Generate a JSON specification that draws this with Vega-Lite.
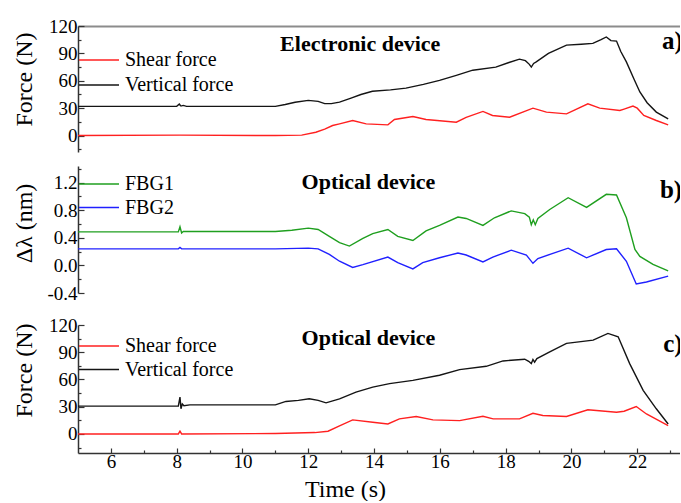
{
  "$schema": "https://vega.github.io/schema/vega-lite/v6.json",
  "autosize": {"type": "pad"},
  "padding": {"left": 12, "top": 17, "right": 0, "bottom": 0},
  "background": "white",
  "config": {
    "view": {"stroke": null},
    "font": "Liberation Serif",
    "axis": {
      "labelFont": "Liberation Serif",
      "labelFontSize": 19,
      "labelColor": "#000000",
      "labelPadding": 7,
      "labelOverlap": false,
      "labelFlush": false,
      "titleFont": "Liberation Serif",
      "titleFontSize": 24,
      "titleFontWeight": "normal",
      "titleColor": "#000000",
      "domainColor": "#333333",
      "domainWidth": 1.5,
      "tickColor": "#333333",
      "tickWidth": 1.2,
      "grid": false
    },
    "legend": {
      "orient": "none",
      "title": null,
      "padding": 0,
      "symbolType": "M-2,0H2",
      "symbolSize": 400,
      "symbolStrokeWidth": 1.6,
      "labelFont": "Liberation Serif",
      "labelFontSize": 20,
      "labelColor": "#000000",
      "labelOffset": 15
    },
    "text": {"font": "Liberation Serif", "fontWeight": "bold", "color": "#000000"}
  },
  "datasets": {
    "electronic": [
      {"t": 5.0, "v": 32, "s": "Vertical force"},
      {"t": 8.0, "v": 32, "s": "Vertical force"},
      {"t": 8.08, "v": 34.5, "s": "Vertical force"},
      {"t": 8.13, "v": 32.3, "s": "Vertical force"},
      {"t": 8.2, "v": 33, "s": "Vertical force"},
      {"t": 8.3, "v": 32, "s": "Vertical force"},
      {"t": 11.0, "v": 32, "s": "Vertical force"},
      {"t": 11.3, "v": 34, "s": "Vertical force"},
      {"t": 11.6, "v": 36.5, "s": "Vertical force"},
      {"t": 12.0, "v": 38.5, "s": "Vertical force"},
      {"t": 12.3, "v": 37.5, "s": "Vertical force"},
      {"t": 12.5, "v": 35, "s": "Vertical force"},
      {"t": 12.7, "v": 35, "s": "Vertical force"},
      {"t": 12.95, "v": 36.6, "s": "Vertical force"},
      {"t": 13.3, "v": 41, "s": "Vertical force"},
      {"t": 13.6, "v": 45, "s": "Vertical force"},
      {"t": 13.95, "v": 48.5, "s": "Vertical force"},
      {"t": 14.5, "v": 50, "s": "Vertical force"},
      {"t": 14.97, "v": 52, "s": "Vertical force"},
      {"t": 15.5, "v": 56, "s": "Vertical force"},
      {"t": 15.99, "v": 60.5, "s": "Vertical force"},
      {"t": 16.5, "v": 66, "s": "Vertical force"},
      {"t": 17.0, "v": 71.6, "s": "Vertical force"},
      {"t": 17.7, "v": 75, "s": "Vertical force"},
      {"t": 18.1, "v": 80, "s": "Vertical force"},
      {"t": 18.42, "v": 83.7, "s": "Vertical force"},
      {"t": 18.6, "v": 82, "s": "Vertical force"},
      {"t": 18.72, "v": 78, "s": "Vertical force"},
      {"t": 18.78, "v": 75, "s": "Vertical force"},
      {"t": 18.85, "v": 79, "s": "Vertical force"},
      {"t": 18.93, "v": 80.7, "s": "Vertical force"},
      {"t": 19.3, "v": 90, "s": "Vertical force"},
      {"t": 19.85, "v": 99, "s": "Vertical force"},
      {"t": 20.3, "v": 100, "s": "Vertical force"},
      {"t": 20.65, "v": 101, "s": "Vertical force"},
      {"t": 20.9, "v": 105, "s": "Vertical force"},
      {"t": 21.06, "v": 108, "s": "Vertical force"},
      {"t": 21.2, "v": 104, "s": "Vertical force"},
      {"t": 21.37, "v": 103.5, "s": "Vertical force"},
      {"t": 21.5, "v": 92, "s": "Vertical force"},
      {"t": 21.67, "v": 80.7, "s": "Vertical force"},
      {"t": 21.9, "v": 62, "s": "Vertical force"},
      {"t": 22.08, "v": 47.7, "s": "Vertical force"},
      {"t": 22.3, "v": 36, "s": "Vertical force"},
      {"t": 22.58, "v": 25.7, "s": "Vertical force"},
      {"t": 22.94, "v": 18.3, "s": "Vertical force"},
      {"t": 5.0, "v": 0, "s": "Shear force"},
      {"t": 8.1, "v": 0.5, "s": "Shear force"},
      {"t": 11.0, "v": 0, "s": "Shear force"},
      {"t": 11.8, "v": 0.5, "s": "Shear force"},
      {"t": 12.23, "v": 3.6, "s": "Shear force"},
      {"t": 12.5, "v": 7, "s": "Shear force"},
      {"t": 12.74, "v": 11, "s": "Shear force"},
      {"t": 12.95, "v": 12.8, "s": "Shear force"},
      {"t": 13.35, "v": 16.5, "s": "Shear force"},
      {"t": 13.76, "v": 12.8, "s": "Shear force"},
      {"t": 14.42, "v": 11.7, "s": "Shear force"},
      {"t": 14.62, "v": 17.6, "s": "Shear force"},
      {"t": 15.18, "v": 20.9, "s": "Shear force"},
      {"t": 15.58, "v": 17.6, "s": "Shear force"},
      {"t": 16.5, "v": 14.6, "s": "Shear force"},
      {"t": 16.8, "v": 20, "s": "Shear force"},
      {"t": 17.31, "v": 26.4, "s": "Shear force"},
      {"t": 17.6, "v": 22, "s": "Shear force"},
      {"t": 18.12, "v": 20.1, "s": "Shear force"},
      {"t": 18.83, "v": 30, "s": "Shear force"},
      {"t": 19.24, "v": 25.7, "s": "Shear force"},
      {"t": 19.85, "v": 23.8, "s": "Shear force"},
      {"t": 20.5, "v": 34.8, "s": "Shear force"},
      {"t": 20.86, "v": 30, "s": "Shear force"},
      {"t": 21.47, "v": 27.5, "s": "Shear force"},
      {"t": 21.6, "v": 29, "s": "Shear force"},
      {"t": 21.87, "v": 32.3, "s": "Shear force"},
      {"t": 22.0, "v": 30, "s": "Shear force"},
      {"t": 22.2, "v": 22, "s": "Shear force"},
      {"t": 22.58, "v": 16.5, "s": "Shear force"},
      {"t": 22.94, "v": 11.7, "s": "Shear force"}
    ],
    "fbg": [
      {"t": 5.0, "v": 0.486, "s": "FBG1"},
      {"t": 8.05, "v": 0.486, "s": "FBG1"},
      {"t": 8.1, "v": 0.56, "s": "FBG1"},
      {"t": 8.15, "v": 0.47, "s": "FBG1"},
      {"t": 8.2, "v": 0.49, "s": "FBG1"},
      {"t": 11.0, "v": 0.49, "s": "FBG1"},
      {"t": 11.5, "v": 0.51, "s": "FBG1"},
      {"t": 12.0, "v": 0.54, "s": "FBG1"},
      {"t": 12.3, "v": 0.52, "s": "FBG1"},
      {"t": 12.64, "v": 0.42, "s": "FBG1"},
      {"t": 12.95, "v": 0.33, "s": "FBG1"},
      {"t": 13.25, "v": 0.28, "s": "FBG1"},
      {"t": 13.66, "v": 0.39, "s": "FBG1"},
      {"t": 13.96, "v": 0.46, "s": "FBG1"},
      {"t": 14.42, "v": 0.52, "s": "FBG1"},
      {"t": 14.72, "v": 0.42, "s": "FBG1"},
      {"t": 15.18, "v": 0.36, "s": "FBG1"},
      {"t": 15.58, "v": 0.5, "s": "FBG1"},
      {"t": 15.99, "v": 0.58, "s": "FBG1"},
      {"t": 16.55, "v": 0.7, "s": "FBG1"},
      {"t": 16.8, "v": 0.68, "s": "FBG1"},
      {"t": 17.31, "v": 0.58, "s": "FBG1"},
      {"t": 17.66, "v": 0.69, "s": "FBG1"},
      {"t": 18.17, "v": 0.79, "s": "FBG1"},
      {"t": 18.58, "v": 0.75, "s": "FBG1"},
      {"t": 18.72, "v": 0.7, "s": "FBG1"},
      {"t": 18.78, "v": 0.59, "s": "FBG1"},
      {"t": 18.84, "v": 0.66, "s": "FBG1"},
      {"t": 18.9, "v": 0.59, "s": "FBG1"},
      {"t": 18.98, "v": 0.68, "s": "FBG1"},
      {"t": 19.34, "v": 0.81, "s": "FBG1"},
      {"t": 19.9, "v": 0.98, "s": "FBG1"},
      {"t": 20.46, "v": 0.84, "s": "FBG1"},
      {"t": 21.06, "v": 1.03, "s": "FBG1"},
      {"t": 21.37, "v": 1.02, "s": "FBG1"},
      {"t": 21.67, "v": 0.69, "s": "FBG1"},
      {"t": 21.93, "v": 0.23, "s": "FBG1"},
      {"t": 22.08, "v": 0.13, "s": "FBG1"},
      {"t": 22.48, "v": 0.014, "s": "FBG1"},
      {"t": 22.94, "v": -0.08, "s": "FBG1"},
      {"t": 5.0, "v": 0.24, "s": "FBG2"},
      {"t": 8.05, "v": 0.24, "s": "FBG2"},
      {"t": 8.1, "v": 0.26, "s": "FBG2"},
      {"t": 8.15, "v": 0.24, "s": "FBG2"},
      {"t": 11.0, "v": 0.24, "s": "FBG2"},
      {"t": 12.0, "v": 0.25, "s": "FBG2"},
      {"t": 12.3, "v": 0.24, "s": "FBG2"},
      {"t": 12.64, "v": 0.16, "s": "FBG2"},
      {"t": 12.95, "v": 0.06, "s": "FBG2"},
      {"t": 13.35, "v": -0.03, "s": "FBG2"},
      {"t": 13.66, "v": 0.01, "s": "FBG2"},
      {"t": 14.42, "v": 0.12, "s": "FBG2"},
      {"t": 14.72, "v": 0.04, "s": "FBG2"},
      {"t": 15.18, "v": -0.05, "s": "FBG2"},
      {"t": 15.48, "v": 0.04, "s": "FBG2"},
      {"t": 15.99, "v": 0.11, "s": "FBG2"},
      {"t": 16.55, "v": 0.18, "s": "FBG2"},
      {"t": 16.8, "v": 0.15, "s": "FBG2"},
      {"t": 17.31, "v": 0.05, "s": "FBG2"},
      {"t": 17.61, "v": 0.12, "s": "FBG2"},
      {"t": 18.17, "v": 0.22, "s": "FBG2"},
      {"t": 18.63, "v": 0.15, "s": "FBG2"},
      {"t": 18.83, "v": 0.03, "s": "FBG2"},
      {"t": 18.98, "v": 0.1, "s": "FBG2"},
      {"t": 19.9, "v": 0.25, "s": "FBG2"},
      {"t": 20.46, "v": 0.11, "s": "FBG2"},
      {"t": 21.06, "v": 0.23, "s": "FBG2"},
      {"t": 21.37, "v": 0.24, "s": "FBG2"},
      {"t": 21.67, "v": 0.06, "s": "FBG2"},
      {"t": 21.97, "v": -0.27, "s": "FBG2"},
      {"t": 22.28, "v": -0.24, "s": "FBG2"},
      {"t": 22.94, "v": -0.155, "s": "FBG2"}
    ],
    "optical": [
      {"t": 5.0, "v": 30.6, "s": "Vertical force"},
      {"t": 8.05, "v": 30.6, "s": "Vertical force"},
      {"t": 8.1, "v": 40.5, "s": "Vertical force"},
      {"t": 8.13, "v": 27.7, "s": "Vertical force"},
      {"t": 8.17, "v": 33, "s": "Vertical force"},
      {"t": 8.22, "v": 31, "s": "Vertical force"},
      {"t": 8.4, "v": 32, "s": "Vertical force"},
      {"t": 11.0, "v": 32, "s": "Vertical force"},
      {"t": 11.32, "v": 35.8, "s": "Vertical force"},
      {"t": 11.7, "v": 37, "s": "Vertical force"},
      {"t": 12.03, "v": 38.7, "s": "Vertical force"},
      {"t": 12.3, "v": 37, "s": "Vertical force"},
      {"t": 12.54, "v": 34.3, "s": "Vertical force"},
      {"t": 12.95, "v": 38.7, "s": "Vertical force"},
      {"t": 13.45, "v": 46, "s": "Vertical force"},
      {"t": 13.96, "v": 51.6, "s": "Vertical force"},
      {"t": 14.47, "v": 55.4, "s": "Vertical force"},
      {"t": 15.18, "v": 59, "s": "Vertical force"},
      {"t": 15.99, "v": 64.6, "s": "Vertical force"},
      {"t": 16.6, "v": 70.9, "s": "Vertical force"},
      {"t": 17.41, "v": 74.5, "s": "Vertical force"},
      {"t": 17.92, "v": 80.4, "s": "Vertical force"},
      {"t": 18.58, "v": 82.3, "s": "Vertical force"},
      {"t": 18.7, "v": 80, "s": "Vertical force"},
      {"t": 18.78, "v": 77.5, "s": "Vertical force"},
      {"t": 18.83, "v": 82, "s": "Vertical force"},
      {"t": 18.88, "v": 79, "s": "Vertical force"},
      {"t": 18.95, "v": 83, "s": "Vertical force"},
      {"t": 19.34, "v": 90.4, "s": "Vertical force"},
      {"t": 19.85, "v": 99.7, "s": "Vertical force"},
      {"t": 20.66, "v": 103.3, "s": "Vertical force"},
      {"t": 21.11, "v": 110.7, "s": "Vertical force"},
      {"t": 21.42, "v": 107, "s": "Vertical force"},
      {"t": 21.77, "v": 77.5, "s": "Vertical force"},
      {"t": 22.18, "v": 48, "s": "Vertical force"},
      {"t": 22.58, "v": 27.7, "s": "Vertical force"},
      {"t": 22.94, "v": 11, "s": "Vertical force"},
      {"t": 5.0, "v": 0, "s": "Shear force"},
      {"t": 8.05, "v": 0, "s": "Shear force"},
      {"t": 8.1, "v": 3, "s": "Shear force"},
      {"t": 8.15, "v": 0, "s": "Shear force"},
      {"t": 11.0, "v": 0.5, "s": "Shear force"},
      {"t": 12.2, "v": 1.5, "s": "Shear force"},
      {"t": 12.6, "v": 3, "s": "Shear force"},
      {"t": 12.95, "v": 9, "s": "Shear force"},
      {"t": 13.35, "v": 15.5, "s": "Shear force"},
      {"t": 13.96, "v": 12.9, "s": "Shear force"},
      {"t": 14.42, "v": 11, "s": "Shear force"},
      {"t": 14.77, "v": 16.6, "s": "Shear force"},
      {"t": 15.28, "v": 19.2, "s": "Shear force"},
      {"t": 15.79, "v": 15.5, "s": "Shear force"},
      {"t": 16.6, "v": 14.7, "s": "Shear force"},
      {"t": 17.31, "v": 19.5, "s": "Shear force"},
      {"t": 17.62, "v": 16.6, "s": "Shear force"},
      {"t": 18.42, "v": 16.6, "s": "Shear force"},
      {"t": 18.83, "v": 22.8, "s": "Shear force"},
      {"t": 19.13, "v": 20.3, "s": "Shear force"},
      {"t": 19.85, "v": 19.2, "s": "Shear force"},
      {"t": 20.5, "v": 26.6, "s": "Shear force"},
      {"t": 21.37, "v": 23.9, "s": "Shear force"},
      {"t": 21.6, "v": 25, "s": "Shear force"},
      {"t": 21.97, "v": 30.2, "s": "Shear force"},
      {"t": 22.28, "v": 22, "s": "Shear force"},
      {"t": 22.94, "v": 9.2, "s": "Shear force"}
    ]
  },
  "resolve": {"scale": {"color": "independent"}, "legend": {"color": "independent"}},
  "spacing": 13,
  "vconcat": [
    {
      "spacing": 14,
      "resolve": {"scale": {"color": "independent"}, "legend": {"color": "independent"}},
      "vconcat": [
        {
          "width": 602,
          "height": 126,
          "resolve": {"axis": {"y": "independent"}},
          "layer": [
            {
              "data": {"name": "electronic"},
              "mark": {"type": "line", "strokeWidth": 1.4},
              "encoding": {
                "x": {
                  "field": "t", "type": "quantitative",
                  "scale": {"domain": [5, 23.3], "nice": false, "zero": false},
                  "axis": {"orient": "top", "labels": false, "ticks": false, "title": null, "domainColor": "#8c8c8c", "domainWidth": 2}
                },
                "y": {
                  "field": "v", "type": "quantitative",
                  "scale": {"domain": [-18, 120], "nice": false},
                  "axis": {
                    "orient": "left",
                    "title": "Force (N)",
                    "titleX": -42, "titleY": 53, "titleBaseline": "bottom", "titleAlign": "center",
                    "values": [0, 30, 60, 90, 120],
                    "tickSize": -6
                  }
                },
                "color": {
                  "field": "s", "type": "nominal",
                  "scale": {"domain": ["Shear force", "Vertical force"], "range": ["#ff2020", "#141414"]},
                  "legend": {"legendX": 10, "legendY": 23, "rowPadding": 4}
                }
              }
            },
            {
              "data": {"values": [{}]},
              "mark": {"type": "text", "fontSize": 22, "align": "center", "baseline": "alphabetic"},
              "encoding": {
                "x": {"datum": 13.58},
                "y": {"datum": 92.6, "axis": {"orient": "left", "values": [-15, 15, 45, 75, 105], "labels": false, "domain": false, "title": null, "tickSize": -3}},
                "text": {"value": "Electronic device"}
              }
            },
            {
              "data": {"values": [{}]},
              "mark": {"type": "text", "fontSize": 25, "align": "left", "baseline": "alphabetic", "clip": true},
              "encoding": {"x": {"datum": 22.75}, "y": {"datum": 95, "axis": null}, "text": {"value": "a)"}}
            }
          ]
        },
        {
          "width": 602,
          "height": 127,
          "resolve": {"axis": {"y": "independent"}},
          "layer": [
            {
              "data": {"name": "fbg"},
              "mark": {"type": "line", "strokeWidth": 1.4},
              "encoding": {
                "x": {
                  "field": "t", "type": "quantitative",
                  "scale": {"domain": [5, 23.3], "nice": false, "zero": false},
                  "axis": null
                },
                "y": {
                  "field": "v", "type": "quantitative",
                  "scale": {"domain": [-0.4, 1.44], "nice": false, "zero": false},
                  "axis": {
                    "orient": "left",
                    "title": "Δλ (nm)",
                    "titleX": -42, "titleY": 57, "titleBaseline": "bottom", "titleAlign": "center",
                    "values": [-0.4, 0, 0.4, 0.8, 1.2],
                    "labelExpr": "replace(format(datum.value, '.1f'), '\u2212', '-')",
                    "tickSize": -6
                  }
                },
                "color": {
                  "field": "s", "type": "nominal",
                  "scale": {"domain": ["FBG1", "FBG2"], "range": ["#1f9f1f", "#2020ff"]},
                  "legend": {"legendX": 10, "legendY": 7, "rowPadding": 2.5}
                }
              }
            },
            {
              "data": {"values": [{}]},
              "mark": {"type": "text", "fontSize": 22, "align": "center", "baseline": "alphabetic"},
              "encoding": {
                "x": {"datum": 13.83},
                "y": {"datum": 1.107, "axis": {"orient": "left", "values": [-0.2, 0.2, 0.6, 1.0, 1.4], "labels": false, "domain": false, "title": null, "tickSize": -3}},
                "text": {"value": "Optical device"}
              }
            },
            {
              "data": {"values": [{}]},
              "mark": {"type": "text", "fontSize": 25, "align": "left", "baseline": "alphabetic", "clip": true},
              "encoding": {"x": {"datum": 22.69}, "y": {"datum": 0.98, "axis": null}, "text": {"value": "b)"}}
            }
          ]
        }
      ]
    },
    {
      "width": 602,
      "height": 128,
      "resolve": {"axis": {"x": "independent", "y": "independent"}},
      "layer": [
        {
          "data": {"name": "optical"},
          "mark": {"type": "line", "strokeWidth": 1.4},
          "encoding": {
            "x": {
              "field": "t", "type": "quantitative",
              "scale": {"domain": [5, 23.3], "nice": false, "zero": false},
              "axis": {
                "orient": "bottom",
                "title": "Time (s)",
                "titleX": 267, "titleY": 43, "titleBaseline": "alphabetic", "titleAlign": "center",
                "values": [6, 8, 10, 12, 14, 16, 18, 20, 22],
                "labelPadding": 4,
                "tickSize": -5
              }
            },
            "y": {
              "field": "v", "type": "quantitative",
              "scale": {"domain": [-21, 120], "nice": false},
              "axis": {
                "orient": "left",
                "title": "Force (N)",
                "titleX": -42, "titleY": 45, "titleBaseline": "bottom", "titleAlign": "center",
                "values": [0, 30, 60, 90, 120],
                "tickSize": -6
              }
            },
            "color": {
              "field": "s", "type": "nominal",
              "scale": {"domain": ["Shear force", "Vertical force"], "range": ["#ff2020", "#141414"]},
              "legend": {"legendX": 10, "legendY": 10, "rowPadding": 2.5}
            }
          }
        },
        {
          "data": {"values": [{}]},
          "mark": {"type": "text", "fontSize": 22, "align": "center", "baseline": "alphabetic"},
          "encoding": {
            "x": {"datum": 13.83, "axis": {"orient": "bottom", "values": [7, 9, 11, 13, 15, 17, 19, 21, 23], "labels": false, "domain": false, "title": null, "tickSize": -3}},
            "y": {"datum": 98, "axis": {"orient": "left", "values": [-15, 15, 45, 75, 105], "labels": false, "domain": false, "title": null, "tickSize": -3}},
            "text": {"value": "Optical device"}
          }
        },
        {
          "data": {"values": [{}]},
          "mark": {"type": "text", "fontSize": 25, "align": "left", "baseline": "alphabetic", "clip": true},
          "encoding": {"x": {"datum": 22.79, "axis": null}, "y": {"datum": 90.6, "axis": null}, "text": {"value": "c)"}}
        }
      ]
    }
  ]
}
